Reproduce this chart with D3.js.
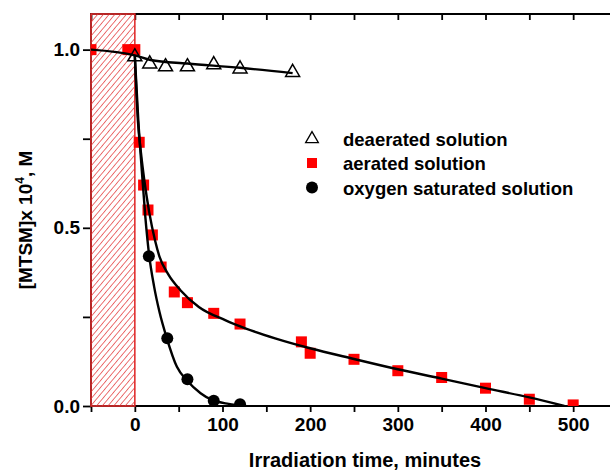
<!DOCTYPE html>
<html><head><meta charset="utf-8">
<script src="https://cdn.jsdelivr.net/npm/d3@7"></script>
<style>body{margin:0;background:#fff}svg{display:block}</style>
</head><body>
<svg id="c" width="610" height="470"></svg>
<script>
// ---- data ----
const deaeratedX = [0, 17, 35, 60, 90, 120, 180];
const deaeratedY = [0.98, 0.96, 0.952, 0.952, 0.958, 0.946, 0.936];
const aeratedX = [-50, -8, 0, 5, 10, 15, 20, 30, 45, 60, 90, 120, 190, 200, 250, 300, 350, 400, 450, 500];
const aeratedY = [1.0, 1.0, 1.0, 0.74, 0.62, 0.55, 0.48, 0.39, 0.32, 0.29, 0.26, 0.23, 0.18, 0.148, 0.131, 0.099, 0.08, 0.05, 0.019, 0.003];
const oxygenX = [16, 37, 60, 90, 120];
const oxygenY = [0.42, 0.19, 0.075, 0.015, 0.005];
// fitted curves
const fitDeaeratedX = [-50, 0, 18, 60, 120, 180];
const fitDeaeratedY = [1.0, 0.984, 0.971, 0.961, 0.949, 0.934];
const fitAeratedX = [0, 3.5, 7, 11, 16.4, 23, 28, 38, 52, 73, 103, 126, 160, 200, 250, 300, 350, 400, 450, 490];
const fitAeratedY = [0.982, 0.80, 0.71, 0.63, 0.544, 0.465, 0.42, 0.37, 0.325, 0.278, 0.241, 0.218, 0.19, 0.162, 0.132, 0.103, 0.077, 0.05, 0.024, 0.0];
const fitOxygenX = [0, 4, 8, 12, 16, 22, 28, 36.5, 48, 60, 75, 88, 107, 125];
const fitOxygenY = [0.982, 0.80, 0.66, 0.53, 0.43, 0.335, 0.265, 0.19, 0.11, 0.07, 0.036, 0.017, 0.006, 0.001];
const xMajorTicks = [0, 100, 200, 300, 400, 500];
const xMinorTicks = [-50, 50, 150, 250, 350, 450, 550];
const yMajorTicks = [0.0, 0.5, 1.0];
const yMinorTicks = [0.25, 0.75];
const legendLabels = ["deaerated solution", "aerated solution", "oxygen saturated solution"];
const darkPeriod = [-50, 0];

// ---- layout ----
const L = 91, R = 617, T = 14, B = 406;
const FONT = "'Liberation Sans', Arial, Helvetica, sans-serif";
const svg = d3.select("#c");
const x = d3.scaleLinear().domain([-50, 550]).range([L, R]);
const y = d3.scaleLinear().domain([0, 1.1]).range([B, T]);
const zip = (a, b) => a.map((v, i) => [v, b[i]]);

svg.append("defs").append("clipPath").attr("id", "clip")
  .append("rect").attr("x", L).attr("y", T).attr("width", R - L).attr("height", B - T);
const pat = svg.select("defs").append("pattern").attr("id", "hatch")
  .attr("patternUnits", "userSpaceOnUse").attr("width", 4.4).attr("height", 4.4)
  .attr("patternTransform", "rotate(40)");
pat.append("line").attr("x1", 0).attr("y1", 0).attr("x2", 0).attr("y2", 4.4)
  .attr("stroke", "#e3383a").attr("stroke-width", 1.4);

// axes
const fmt = d3.format(".1f");
const gB = svg.append("g").attr("transform", `translate(0,${B})`)
  .call(d3.axisBottom(x).tickValues(xMajorTicks).tickSize(6).tickPadding(6).tickFormat(d3.format("d")));
const gBm = svg.append("g").attr("transform", `translate(0,${B})`)
  .call(d3.axisBottom(x).tickValues(xMinorTicks).tickSize(6).tickFormat(""));
const gT = svg.append("g").attr("transform", `translate(0,${T})`)
  .call(d3.axisBottom(x).tickValues(xMajorTicks.concat(xMinorTicks)).tickSize(6).tickFormat(""));
const gL = svg.append("g").attr("transform", `translate(${L},0)`)
  .call(d3.axisLeft(y).tickValues(yMajorTicks).tickSize(8).tickPadding(3).tickFormat(fmt));
const gLm = svg.append("g").attr("transform", `translate(${L},0)`)
  .call(d3.axisLeft(y).tickValues(yMinorTicks).tickSize(8).tickFormat(""));
const gR = svg.append("g").attr("transform", `translate(${R},0)`)
  .call(d3.axisLeft(y).tickValues(yMajorTicks.concat(yMinorTicks)).tickSize(7).tickFormat(""));
[gB, gBm, gT, gL, gLm, gR].forEach(g => {
  g.select(".domain").remove();
  g.selectAll("line").attr("stroke", "#000").attr("stroke-width", 1.8);
  g.selectAll("text").attr("font-family", FONT).attr("font-weight", "bold")
    .attr("font-size", 19).attr("fill", "#000");
});
svg.append("rect").attr("x", L).attr("y", T).attr("width", R - L).attr("height", B - T)
  .attr("fill", "none").attr("stroke", "#000").attr("stroke-width", 2);

// hatched dark period
svg.append("rect").attr("x", x(darkPeriod[0])).attr("y", T)
  .attr("width", x(darkPeriod[1]) - x(darkPeriod[0])).attr("height", B - T)
  .attr("fill", "url(#hatch)").attr("stroke", "#e03030").attr("stroke-width", 1.6);

const plot = svg.append("g").attr("clip-path", "url(#clip)");
// squares
plot.selectAll("rect.sq").data(zip(aeratedX, aeratedY)).join("rect").attr("class", "sq")
  .attr("x", d => x(d[0]) - 5.5).attr("y", d => y(d[1]) - 5.5)
  .attr("width", 11).attr("height", 11).attr("fill", "#ff0000");
// triangles
const tri = d3.symbol().type(d3.symbolTriangle).size(85);
plot.selectAll("path.tri").data(zip(deaeratedX, deaeratedY)).join("path").attr("class", "tri")
  .attr("d", tri).attr("transform", d => `translate(${x(d[0])},${y(d[1])})`)
  .attr("fill", "none").attr("stroke", "#000").attr("stroke-width", 1.5);
// circles
plot.selectAll("circle.ox").data(zip(oxygenX, oxygenY)).join("circle").attr("class", "ox")
  .attr("cx", d => x(d[0])).attr("cy", d => y(d[1])).attr("r", 6).attr("fill", "#000");
// fits
const line = d3.line().x(d => x(d[0])).y(d => y(d[1])).curve(d3.curveMonotoneX);
[[fitDeaeratedX, fitDeaeratedY], [fitAeratedX, fitAeratedY], [fitOxygenX, fitOxygenY]].forEach(([a, b]) => {
  plot.append("path").attr("d", line(zip(a, b))).attr("fill", "none")
    .attr("stroke", "#000").attr("stroke-width", 2.4);
});

// legend
const lgX = 312, lgY = [139, 163, 187.5];
svg.append("path").attr("d", d3.symbol().type(d3.symbolTriangle).size(70))
  .attr("transform", `translate(${lgX},${lgY[0]})`).attr("fill", "none")
  .attr("stroke", "#000").attr("stroke-width", 1.3);
svg.append("rect").attr("x", lgX - 5).attr("y", lgY[1] - 5).attr("width", 10).attr("height", 10).attr("fill", "#ff0000");
svg.append("circle").attr("cx", lgX).attr("cy", lgY[2]).attr("r", 6).attr("fill", "#000");
svg.selectAll("text.lg").data(legendLabels).join("text").attr("class", "lg")
  .attr("x", 343).attr("y", (d, i) => lgY[i] + 7)
  .attr("font-family", FONT).attr("font-weight", "bold").attr("font-size", 18.5)
  .text(d => d);

// axis titles
svg.append("text").attr("x", 365).attr("y", 467).attr("text-anchor", "middle")
  .attr("font-family", FONT).attr("font-weight", "bold").attr("font-size", 20)
  .text("Irradiation time, minutes");
const yt = svg.append("text").attr("transform", "translate(32,220) rotate(-90)")
  .attr("text-anchor", "middle").attr("font-family", FONT).attr("font-weight", "bold").attr("font-size", 19);
yt.append("tspan").text("[MTSM]x 10");
yt.append("tspan").attr("dy", -8).attr("font-size", 12).text("4");
yt.append("tspan").attr("dy", 8).text(", M");
</script>
</body></html>
